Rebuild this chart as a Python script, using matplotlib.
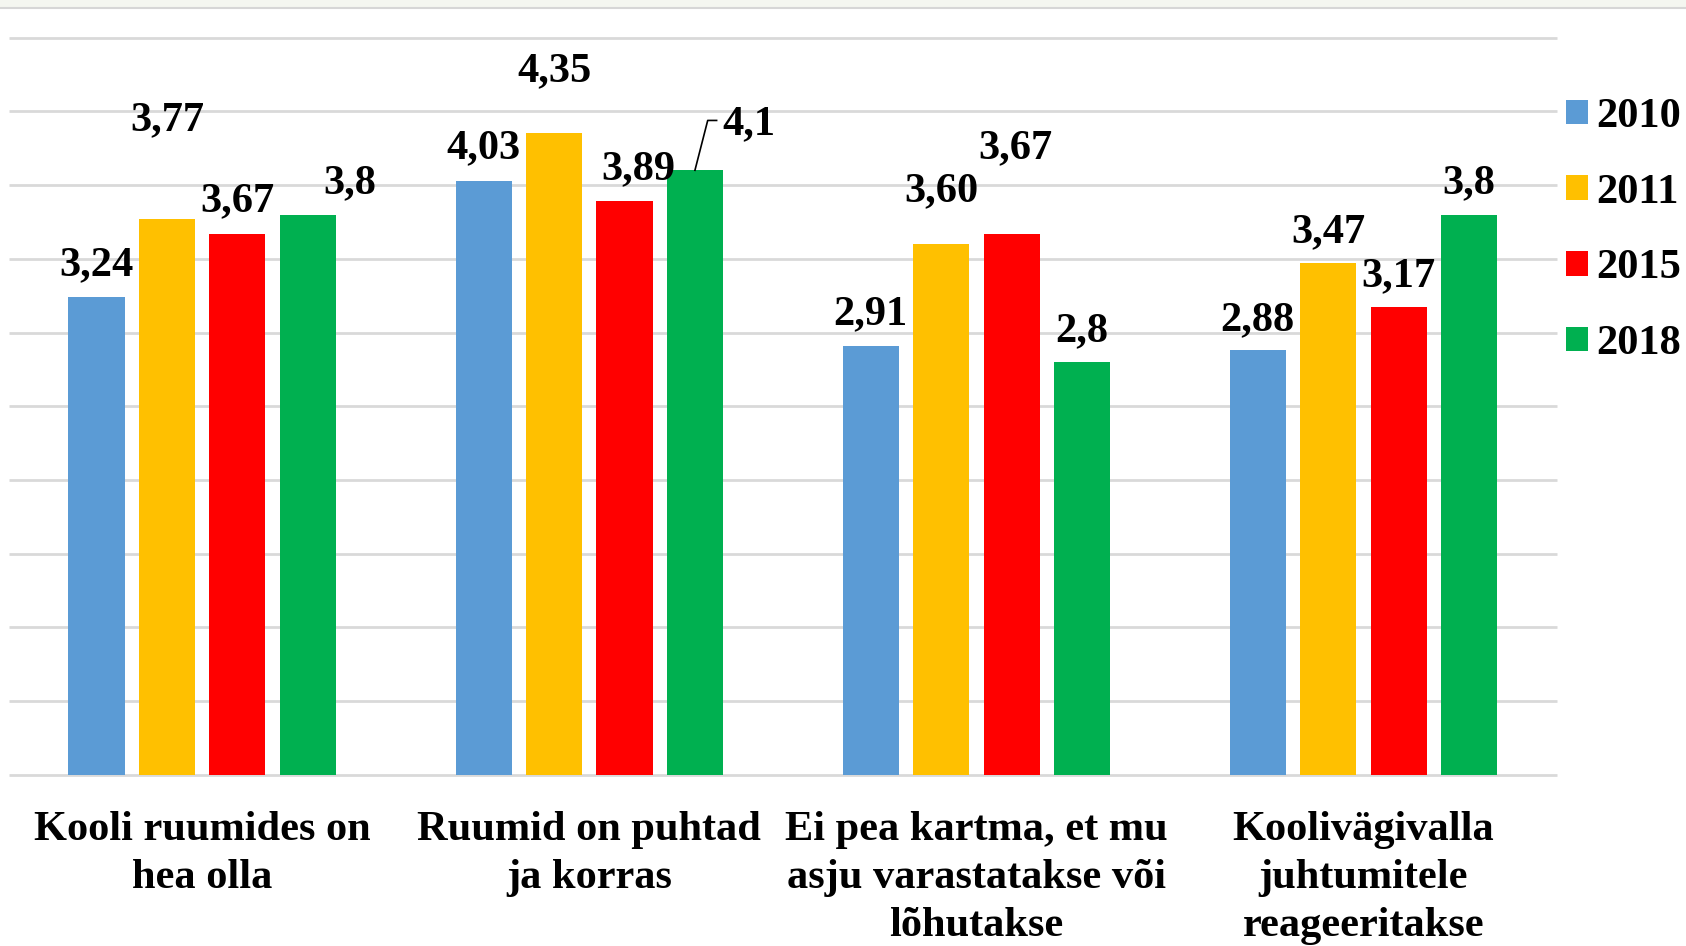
import numpy as np
import matplotlib
matplotlib.use("Agg")
import matplotlib.pyplot as plt
from matplotlib.patches import Patch
from matplotlib import font_manager

# ---- data ----
categories = ["Kooli ruumides on\nhea olla",
              "Ruumid on puhtad\nja korras",
              "Ei pea kartma, et mu\nasju varastatakse või\nlõhutakse",
              "Koolivägivalla\njuhtumitele\nreageeritakse"]
years = ["2010", "2011", "2015", "2018"]
v2010 = [3.24, 4.03, 2.91, 2.88]
v2011 = [3.77, 4.35, 3.60, 3.47]
v2015 = [3.67, 3.89, 3.67, 3.17]
v2018 = [3.80, 4.10, 2.80, 3.80]
labels2010 = ["3,24", "4,03", "2,91", "2,88"]
labels2011 = ["3,77", "4,35", "3,60", "3,47"]
labels2015 = ["3,67", "3,89", "3,67", "3,17"]
labels2018 = ["3,8", "4,1", "2,8", "3,8"]

colors = ["#5B9BD5", "#FFC000", "#FF0000", "#00B050"]
series = [v2010, v2011, v2015, v2018]
series_labels = [labels2010, labels2011, labels2015, labels2018]

# label offsets (dx in category units, dy in value units) per series/category
label_dx = [[0, 0, 0, 0],
            [0, 0, 0, 0],
            [0, 0.036, 0.011, 0],
            [0.108, None, 0, 0]]
label_dy = [[0.217, 0.222, 0.211, 0.204],
            [0.672, 0.425, 0.358, 0.213],
            [0.217, 0.216, 0.580, 0.214],
            [0.211, None, 0.211, 0.211]]

FS = 30.5
font_path = font_manager.findfont(
    font_manager.FontProperties(family="Liberation Serif", weight="bold"),
    fallback_to_default=True)
FP = font_manager.FontProperties(fname=font_path, size=FS)

fig = plt.figure(figsize=(16.86, 9.46), dpi=100)

# top screenshot artefact: faint band and line
fig.patches.append(plt.Rectangle((0, 1 - 7.5 / 946), 1, 7.5 / 946, transform=fig.transFigure,
                                 facecolor="#f4f6f0", edgecolor="none", zorder=0))
fig.lines.append(plt.Line2D([0, 1], [1 - 8 / 946, 1 - 8 / 946], transform=fig.transFigure,
                            color="#d6d6d6", lw=1.5))

ax = fig.add_axes([0.0051, 0.1808, 0.9184, 0.7795])
ax.set_xlim(-0.5, 3.5)
ax.set_ylim(0, 5)
for s in ax.spines.values():
    s.set_visible(False)
ax.set_yticks([])

grid_levels = np.arange(0, 5.01, 0.5)
ax.hlines(grid_levels, -0.5, 3.5, colors="#d9d9d9", lw=2, clip_on=False, zorder=0)

x = np.arange(len(categories))
width = 0.145
offsets = [-0.273, -0.091, 0.091, 0.273]

for i, (vals, col, labs) in enumerate(zip(series, colors, series_labels)):
    xs = x + offsets[i]
    ax.bar(xs, vals, width=width, color=col, zorder=2, label=years[i])
    for j, (xv, v, lab) in enumerate(zip(xs, vals, labs)):
        if label_dx[i][j] is None:
            # leader-line label
            ly = 4.438
            ax.plot([xv, xv + 0.033, xv + 0.056], [v, ly, ly], color="black", lw=1.2,
                    zorder=3, clip_on=False)
            ax.text(xv + 0.072, ly - 0.025, lab, ha="left", va="center",
                    fontproperties=FP, zorder=4)
        else:
            ax.text(xv + label_dx[i][j], v + label_dy[i][j], lab, ha="center", va="center",
                    fontproperties=FP, zorder=4, clip_on=False)

ax.set_xticks(x)
ax.set_xticklabels(categories, fontproperties=FP, linespacing=1.34)
ax.tick_params(axis="x", length=0, pad=26)

handles = [Patch(facecolor=c, edgecolor="none") for c in colors]
leg = fig.legend(handles, years, loc="upper left", bbox_to_anchor=(1566 / 1686, 1 - 98 / 946),
                 frameon=False, prop=FP,
                 handlelength=0.52, handleheight=0.52, handletextpad=0.2,
                 labelspacing=0.89, borderpad=0, borderaxespad=0)

fig.savefig("out.png", dpi=100)
